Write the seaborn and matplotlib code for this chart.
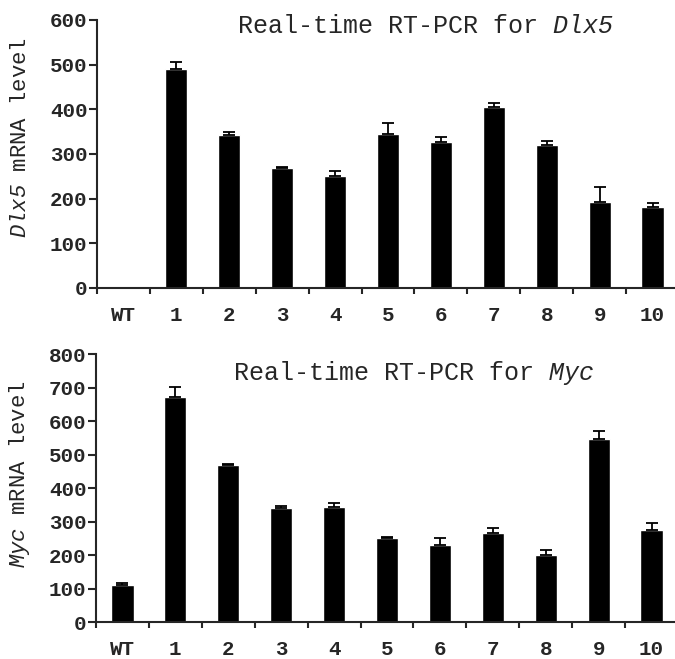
import matplotlib
matplotlib.use('Agg')
import matplotlib.pyplot as plt
import seaborn as sns
import pandas as pd
import numpy as np

sns.set_style('ticks')
plt.rcParams['font.family'] = ['Liberation Mono', 'DejaVu Sans Mono']
plt.rcParams['mathtext.fontset'] = 'custom'
# gene names fully italic (digits included)
plt.rcParams['mathtext.rm'] = 'Liberation Mono:italic'
plt.rcParams['mathtext.it'] = 'Liberation Mono:italic'

samples = ['WT', '1', '2', '3', '4', '5', '6', '7', '8', '9', '10']
dlx5_mean = [0, 490, 342, 268, 251, 345, 326, 405, 320, 193, 181]
dlx5_err = [0, 15, 8, 3, 12, 24, 13, 8, 8, 34, 9]
myc_mean = [110, 671, 469, 339, 344, 251, 229, 267, 201, 546, 274]
myc_err = [7, 32, 3, 8, 12, 3, 22, 15, 13, 25, 21]

df_dlx5 = pd.DataFrame({'sample': samples, 'level': dlx5_mean, 'err': dlx5_err})
df_myc = pd.DataFrame({'sample': samples, 'level': myc_mean, 'err': myc_err})

fig = plt.figure(figsize=(6.75, 6.59), dpi=100)
ax1 = fig.add_axes([97 / 675, 0.563, 582 / 675, 0.4067])
ax2 = fig.add_axes([96 / 675, 0.0561, 582 / 675, 0.4067])


def draw(ax, df, ymax, ystep, gene, title_x, title_y, lab_x, lab_y):
    sns.barplot(data=df, x='sample', y='level', order=samples, color='black', saturation=1,
                width=0.42, errorbar=None, ax=ax)
    pos = np.arange(len(samples))
    ax.errorbar(pos, df['level'], yerr=[np.zeros(len(df)), df['err']], fmt='none', ecolor='black',
                elinewidth=1.3, capsize=4.3, capthick=1.3)
    ax.set_xlim(-0.5, len(samples) - 0.5)
    ax.set_ylim(0, ymax)
    ax.set_yticks(np.arange(0, ymax + 1, ystep))
    ax.set_xticks(pos)
    ax.set_xticklabels(samples, fontweight='bold', fontsize=15)
    ax.set_xticks(np.arange(-0.5, len(samples), 1), minor=True)
    ax.tick_params(axis='x', which='major', length=0, pad=13)
    ax.tick_params(axis='x', which='minor', length=4.5, width=1.5, direction='out')
    ax.tick_params(axis='y', length=6, width=1.5, pad=1, labelsize=15)
    for lbl in ax.get_yticklabels():
        lbl.set_fontweight('bold')
    for side in ['top', 'right']:
        ax.spines[side].set_visible(False)
    for side in ['left', 'bottom']:
        ax.spines[side].set_linewidth(1.5)
    ax.set_xlabel('')
    ax.set_ylabel(r'$' + gene + '$ mRNA level', fontsize=16)
    ax.yaxis.set_label_coords(lab_x, lab_y)
    ax.text(title_x, title_y, r'Real-time RT-PCR for $' + gene + '$', transform=ax.transAxes,
            ha='left', va='baseline', fontsize=18)


draw(ax1, df_dlx5, 600, 100, 'Dlx5', 0.2405, 0.951, -0.114, 0.563)
draw(ax2, df_myc, 800, 100, 'Myc', 0.2354, 0.903, -0.11, 0.552)

fig.savefig('out.png', dpi=100)
